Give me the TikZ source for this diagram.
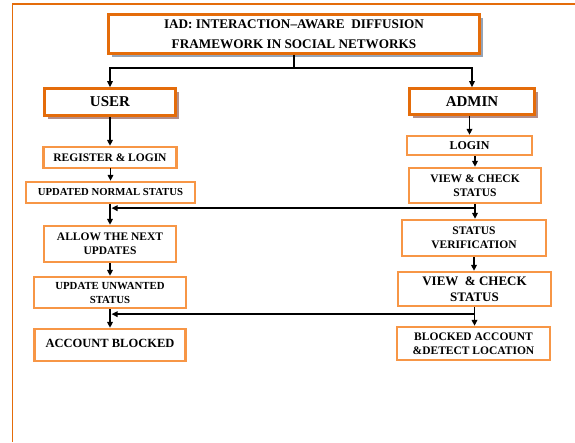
\documentclass[tikz,border=0pt]{standalone}
\usepackage{fontspec}
\setmainfont{Liberation Serif}
\usetikzlibrary{arrows.meta,shadows,calc}
\definecolor{odark}{HTML}{E46C0A}
\definecolor{olight}{HTML}{F79646}
\definecolor{shblue}{HTML}{95A3B6}
\definecolor{shpink}{HTML}{B38E8A}
\begin{document}
\begin{tikzpicture}[x=1pt,y=-1pt,
  bigbox/.style={draw=odark, line width=2.6pt, fill=white, inner sep=0pt, align=center},
  smallbox/.style={draw=olight, line width=2.3pt, fill=white, inner sep=0pt, align=center},
  shadowblue/.style={drop shadow={shadow xshift=3.2pt, shadow yshift=-3.2pt, fill=shblue, opacity=1}},
  shadowpink/.style={drop shadow={shadow xshift=3.2pt, shadow yshift=-3.2pt, fill=shpink, opacity=1}},
  arr/.style={draw=black, line width=1.6pt, -{Triangle[length=6pt,width=5.5pt]}},
  frameline/.style={draw=odark, line width=1.4pt}]
\useasboundingbox (0,0) rectangle (575,442);
\draw[frameline] (575,4) -- (12.5,4) -- (12.5,442);

% top
\node[bigbox, shadowblue, minimum width=371pt, minimum height=39pt,
  font=\bfseries\fontsize{13.2}{20}\selectfont] (title) at (294,34)
  {IAD: INTERACTION–AWARE~~DIFFUSION\\FRAMEWORK IN SOCIAL NETWORKS};
\node[bigbox, shadowpink, minimum width=131pt, minimum height=27pt,
  font=\bfseries\fontsize{15}{18}\selectfont] (user) at (110,102) {USER};
\node[bigbox, shadowpink, minimum width=125pt, minimum height=26pt,
  font=\bfseries\fontsize{15}{18}\selectfont] (admin) at (472,101.5) {ADMIN};

% left column
\node[smallbox, minimum width=133pt, minimum height=21pt,
  font=\bfseries\fontsize{11.5}{14}\selectfont] (register) at (110,157.5) {REGISTER \& LOGIN};
\node[smallbox, minimum width=169pt, minimum height=21pt,
  font=\bfseries\fontsize{10.7}{14}\selectfont] (updated) at (110.5,192.5) {UPDATED NORMAL STATUS};
\node[smallbox, minimum width=132pt, minimum height=36pt,
  font=\bfseries\fontsize{11.5}{14}\selectfont] (allow) at (110,244) {ALLOW THE NEXT\\UPDATES};
\node[smallbox, minimum width=152pt, minimum height=31pt,
  font=\bfseries\fontsize{10.8}{14}\selectfont] (unwanted) at (110,292.5) {UPDATE UNWANTED\\STATUS};
\node[smallbox, minimum width=151pt, minimum height=32pt,
  font=\bfseries\fontsize{12.5}{15}\selectfont] (blocked) at (110,345) {\raisebox{3pt}{ACCOUNT BLOCKED}};

% right column
\node[smallbox, minimum width=125pt, minimum height=19pt,
  font=\bfseries\fontsize{12}{14}\selectfont] (login) at (469.5,145.5) {LOGIN};
\node[smallbox, minimum width=132pt, minimum height=35pt,
  font=\bfseries\fontsize{11.5}{13.5}\selectfont] (view1) at (475,185.5) {VIEW \& CHECK\\STATUS};
\node[smallbox, minimum width=144pt, minimum height=36pt,
  font=\bfseries\fontsize{11.5}{14}\selectfont] (verif) at (474,238) {STATUS\\VERIFICATION};
\node[smallbox, minimum width=153pt, minimum height=34pt,
  font=\bfseries\fontsize{13}{16.5}\selectfont] (view2) at (474.5,289) {VIEW~~\& CHECK\\STATUS};
\node[smallbox, minimum width=153pt, minimum height=33pt,
  font=\bfseries\fontsize{11.5}{13.5}\selectfont] (detect) at (473.5,343.5) {BLOCKED ACCOUNT\\\&DETECT LOCATION};

% connectors from title
\coordinate (split) at ($(title.south)+(0,13)$);
\draw[line width=1.6pt] (title.south) -- (split);
\draw[arr] (split) -| (user.north);
\draw[arr] (split) -| (admin.north);

% left chain
\draw[arr] (user.south) -- (register.north);
\draw[arr] (register.south) -- (updated.south |- register.south) -- (updated.south |- updated.north);
\draw[arr] (updated.south -| allow.north) -- (allow.north);
\draw[arr] (allow.south) -- (unwanted.north);
\draw[arr] (unwanted.south) -- (blocked.north);

% right chain
\draw[arr] (admin.south -| login.north) -- (login.north);
\draw[arr] (view1.north |- login.south) -- (view1.north);
\draw[arr] (view1.south) -- (view1.south |- verif.north);
\draw[arr] (verif.south) -- (verif.south |- view2.north);
\draw[arr] (view2.south) -- (view2.south |- detect.north);

% feedback lines
\coordinate (fb1) at ($(view1.south |- updated.south)+(0,4)$);
\coordinate (fb2) at ($(view2.south |- unwanted.south)+(0,5)$);
\draw[arr, line width=1.8pt] (fb1) -- ($(fb1 -| allow.north)+(1.5,0)$);
\draw[arr, line width=1.8pt] (fb2) -- ($(fb2 -| unwanted.south)+(1.5,0)$);
\end{tikzpicture}
\end{document}
